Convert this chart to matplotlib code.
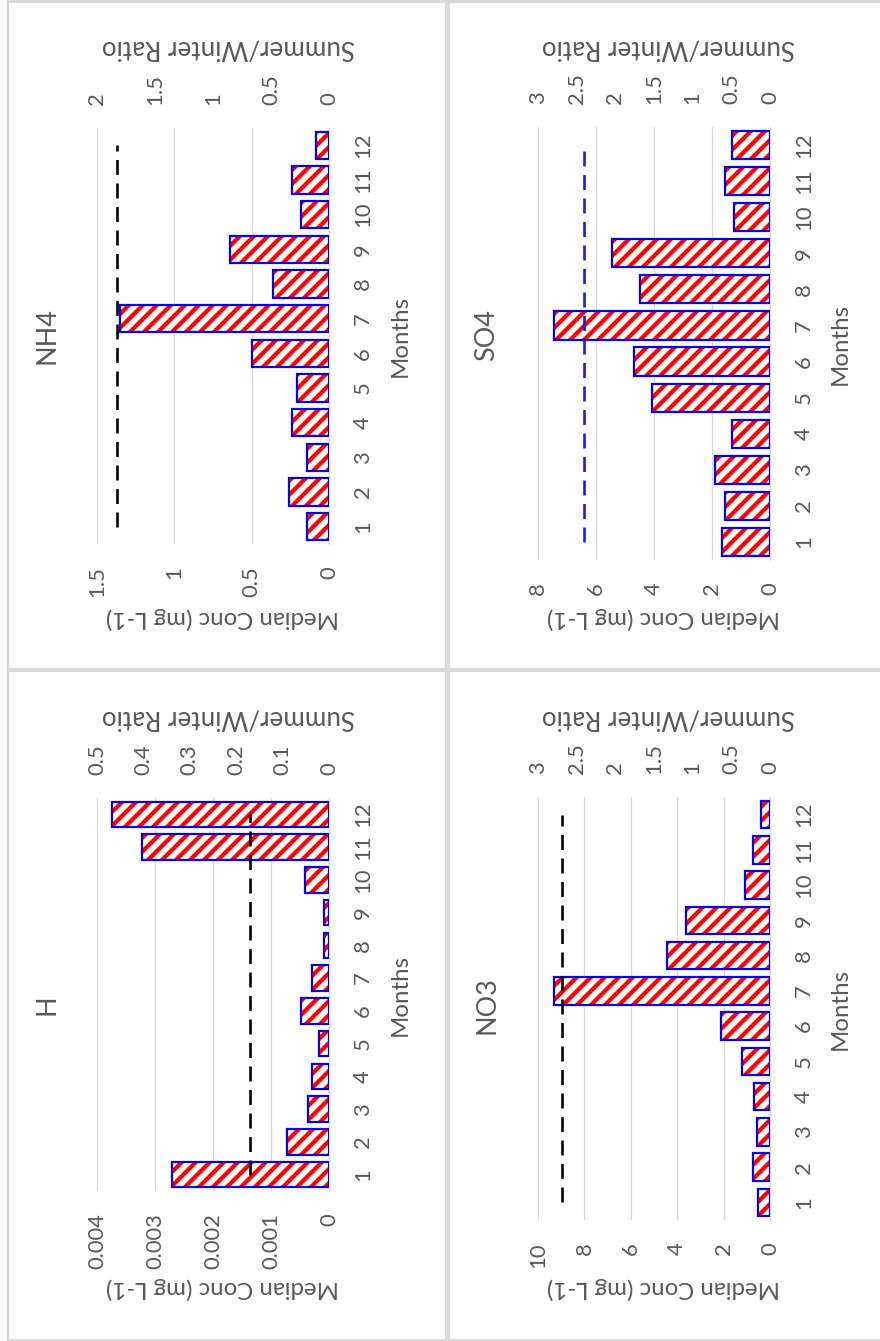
import matplotlib
matplotlib.use('Agg')
import matplotlib.pyplot as plt
from matplotlib.ticker import MultipleLocator, FuncFormatter
from matplotlib.patches import Rectangle

# picture is an Excel 2x2 panel rotated 90 deg counter-clockwise
W, H = 881, 1341
DPI = 84

months = list(range(1, 13))

nh4_conc = [0.14, 0.256, 0.14, 0.24, 0.21, 0.50, 1.35, 0.36, 0.64, 0.18, 0.24, 0.084]
nh4_ratio = 1.83

so4_conc = [1.65, 1.55, 1.9, 1.3, 4.07, 4.7, 7.46, 4.47, 5.44, 1.24, 1.55, 1.3]
so4_ratio = 2.41

h_conc = [0.0027, 0.00073, 0.00036, 0.00029, 0.00017, 0.00048,
          0.00029, 0.00009, 0.00009, 0.00041, 0.00323, 0.00375]
h_ratio = 0.17

no3_conc = [0.5, 0.75, 0.58, 0.68, 1.22, 2.12, 9.32, 4.43, 3.6, 1.08, 0.75, 0.4]
no3_ratio = 2.69

GRAY = '#595959'
GRID = '#d9d9d9'
FONT = 'Lato'

plt.rcParams['font.family'] = [FONT, 'DejaVu Sans']
plt.rcParams['hatch.linewidth'] = 3.6
plt.rcParams['lines.scale_dashes'] = False


def pt(px):
    return px * 72.0 / DPI


fig = plt.figure(figsize=(W / DPI, H / DPI), dpi=DPI)


def ftext(x, y, s, rot, size):
    fig.text(x / W, 1 - y / H, s, rotation=rot, ha='center', va='center',
             fontsize=pt(size), color=GRAY)


def fmt(v, p):
    return f'{round(v, 6):g}'


def panel(name, conc, ratio, lcolor, vmax, vstep, smax, sstep, ox, oy, box):
    x0, x1, y0, y1 = box
    ax = fig.add_axes([(ox + x0) / W, 1 - (oy + y1) / H, (x1 - x0) / W, (y1 - y0) / H])
    ax2 = ax.twiny()

    ax.barh(months, conc, height=0.78, color='white', edgecolor='#ff0000',
            hatch='//', linewidth=0, zorder=2)
    ax.barh(months, conc, height=0.78, fill=False, edgecolor='#0000e6',
            linewidth=pt(2.2), zorder=3)
    ax.set_xlim(vmax, 0)
    ax.set_ylim(0.5, 12.5)
    ax.xaxis.set_major_locator(MultipleLocator(vstep))
    ax.xaxis.set_major_formatter(FuncFormatter(fmt))
    ax.grid(axis='x', color=GRID, linewidth=pt(1.3))
    ax.set_axisbelow(True)
    for s in ['top', 'bottom', 'left']:
        ax.spines[s].set_visible(False)
    ax.spines['right'].set_color(GRID)
    ax.spines['right'].set_linewidth(pt(1.3))
    ax.yaxis.tick_right()
    ax.set_yticks(months)
    ax.set_yticklabels([str(m) for m in months])
    ax.tick_params(axis='y', length=0, pad=pt(24), labelsize=pt(22),
                   labelcolor=GRAY, labelrotation=90)
    for t in ax.get_yticklabels():
        t.set_va('center')
        t.set_ha('left')
    ax.tick_params(axis='x', length=0, pad=pt(22), labelsize=pt(22),
                   labelcolor=GRAY, labelrotation=90)

    ax2.plot([ratio, ratio], [months[0], months[-1]], color=lcolor,
             linewidth=pt(2.6), dashes=(pt(15), pt(8.5)), zorder=4)
    ax2.set_xlim(smax, 0)
    ax2.set_ylim(0.5, 12.5)
    ax2.xaxis.set_major_locator(MultipleLocator(sstep))
    ax2.xaxis.set_major_formatter(FuncFormatter(fmt))
    for s in ax2.spines.values():
        s.set_visible(False)
    ax2.tick_params(axis='x', length=0, pad=pt(23), labelsize=pt(22),
                    labelcolor=GRAY, labelrotation=90)

    ftext(ox + 47, oy + 335, name, 90, 27)
    ftext(ox + 400, oy + (y0 + y1) / 2, 'Months', 90, 24)
    ftext(ox + (x0 + x1) / 2 + 9, oy + 618, 'Median Conc (mg L-1)', 180, 24)
    ftext(ox + 228, oy + 48, 'Summer/Winter Ratio', 180, 26)


panel('NH4', nh4_conc, nh4_ratio, 'black', 1.5, 0.5, 2, 0.5, 0, 0, (97, 329, 128, 544))
panel('SO4', so4_conc, so4_ratio, '#1c1cd0', 8, 2, 3, 0.5, 440, 0, (98, 330, 127, 560))
panel('H', h_conc, h_ratio, 'black', 0.004, 0.001, 0.5, 0.1, 0, 670, (97, 329, 128, 521))
panel('NO3', no3_conc, no3_ratio, 'black', 10, 2, 3, 0.5, 440, 670, (98, 330, 127, 550))

# panel frames
for x, y, w, h in [(7, 0, 2.5, 1341), (7, 0, 874, 2.5), (445, 0, 5, 1341),
                   (7, 668, 874, 4.5), (7, 1338.5, 874, 2.5)]:
    fig.add_artist(Rectangle((x / W, 1 - (y + h) / H), w / W, h / H,
                             transform=fig.transFigure, color=GRID, lw=0))

fig.savefig('out.png', dpi=DPI)
